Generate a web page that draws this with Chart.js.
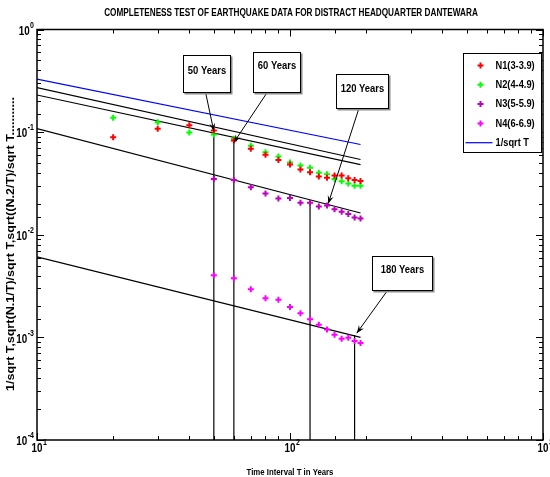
<!DOCTYPE html>
<html>
<head>
<meta charset="utf-8">
<title>Completeness test - Dantewara</title>
<script src="https://cdn.jsdelivr.net/npm/chart.js@4.4.1/dist/chart.umd.min.js"></script>
<style>
    html, body { margin: 0; padding: 0; background: #ffffff; }
    #wrap { width: 550px; height: 477px; }
</style>
</head>
<body>
<div id="wrap"><canvas id="completenessChart" width="550" height="477"></canvas></div>
<script>
// Stepp completeness test - sqrt(N/T)/sqrt T against time interval T

/* ========================================
   Data
   ======================================== */

// time intervals (years) for the two lower magnitude classes
const intervalsLow = [20, 30, 40, 50, 60, 70, 80, 90, 100, 110, 120, 130, 140, 150, 160, 170, 180, 190];
// time intervals (years) for the two higher magnitude classes
const intervalsHigh = [50, 60, 70, 80, 90, 100, 110, 120, 130, 140, 150, 160, 170, 180, 190];

const n1Values = [0.0893, 0.108, 0.117, 0.104, 0.0829, 0.0688, 0.0602, 0.0534, 0.0483, 0.0432,
                  0.0406, 0.0370, 0.0360, 0.0377, 0.0377, 0.0356, 0.0342, 0.0334];
const n2Values = [0.138, 0.125, 0.0993, 0.0950, 0.0861, 0.0736, 0.0637, 0.0578, 0.0506, 0.0472,
                  0.0449, 0.0402, 0.0388, 0.0350, 0.0333, 0.0315, 0.0301, 0.0301];
const n3Values = [0.0350, 0.0342, 0.0290, 0.0253, 0.0226, 0.0228, 0.0205, 0.0205, 0.0189, 0.0193,
                  0.0177, 0.0168, 0.0159, 0.0147, 0.0144];
const n4Values = [0.00403, 0.00376, 0.00294, 0.00240, 0.00232, 0.00198, 0.00172, 0.00150, 0.00133,
                  0.00119, 0.00106, 0.00097, 0.00099, 0.00092, 0.00088];

const seriesNames = ['N1(3-3.9)', 'N2(4-4.9)', 'N3(5-5.9)', 'N4(6-6.9)', '1/sqrt T'];

// straight lines: value at T = 10 and at T = 190
const lineSpan = [10, 190];
const sqrtTValues = [0.328, 0.0758];
const fitLineValues = [
    [0.272, 0.0541],
    [0.230, 0.0483],
    [0.108, 0.0163],
    [0.00608, 0.00100]
];

// completeness periods and where their drop lines start
const completeYears = [50, 60, 120, 180];
const completeTop = [0.100, 0.083, 0.0215, 0.00105];
const calloutText = ['50 Years', '60 Years', '120 Years', '180 Years'];
const calloutTips = [[50, 0.102], [60, 0.0793], [141.6, 0.0201], [183.6, 0.0011]];

const xTickRange = [10, 1000];
const yTickRange = [1e-4, 1];

const titleText = 'COMPLETENESS TEST OF EARTHQUAKE DATA FOR DISTRACT HEADQUARTER DANTEWARA';
const xTitleText = 'Time Interval T in Years';
const yTitleText = '1/sqrt T,sqrt(N.1/T)/sqrt T,sqrt((N.2/T)/sqrt T...........';

/* ========================================
   Helpers
   ======================================== */

const FONT = "'Liberation Sans', Arial, Helvetica, sans-serif";
const SQUISH = 0.82;   // the figure text is set narrow

// draw a line of text, compressed horizontally
function drawText(ctx, text, x, y, size, align, rotate) {
    ctx.save();
    ctx.translate(x, y);
    ctx.scale(SQUISH, 1);
    if (rotate) ctx.rotate(rotate);
    ctx.font = 'bold ' + size + 'px ' + FONT;
    ctx.textAlign = align || 'center';
    ctx.textBaseline = 'middle';
    ctx.fillStyle = '#000';
    ctx.fillText(text, 0, 0);
    ctx.restore();
}

function textWidth(ctx, text, size) {
    ctx.save();
    ctx.font = 'bold ' + size + 'px ' + FONT;
    const w = ctx.measureText(text).width * SQUISH;
    ctx.restore();
    return w;
}

function decadeOf(value) {
    const e = Math.log10(value);
    return Math.abs(e - Math.round(e)) < 1e-6 ? Math.round(e) : null;
}

function points(xs, ys) {
    return xs.map((x, i) => ({ x: x, y: ys[i] }));
}

function markerSet(label, xs, ys, color) {
    return {
        label: label,
        data: points(xs, ys),
        pointStyle: 'cross',
        pointRadius: 3,
        borderWidth: 2,
        borderColor: color,
        backgroundColor: color,
        showLine: false,
        inLegend: true
    };
}

function lineSet(label, xs, ys, color, inLegend) {
    return {
        label: label,
        data: points(xs, ys),
        showLine: true,
        borderColor: color,
        borderWidth: 1.2,
        pointRadius: 0,
        inLegend: inLegend
    };
}

/* ========================================
   Plugins
   ======================================== */

// box around the plot, inward ticks on all sides, power-of-ten labels and titles
const frameTicks = {
    id: 'frameTicks',
    afterDatasetsDraw(chart) {
        const { ctx, chartArea: a, scales: { x, y } } = chart;
        ctx.save();
        ctx.strokeStyle = '#000';
        ctx.lineWidth = 1;
        ctx.beginPath();
        x.ticks.forEach(t => {
            const px = Math.round(x.getPixelForValue(t.value)) + 0.5;
            const len = decadeOf(t.value) !== null ? 7 : 4;
            ctx.moveTo(px, a.bottom); ctx.lineTo(px, a.bottom - len);
            ctx.moveTo(px, a.top); ctx.lineTo(px, a.top + len);
        });
        y.ticks.forEach(t => {
            const py = Math.round(y.getPixelForValue(t.value)) + 0.5;
            const len = decadeOf(t.value) !== null ? 7 : 4;
            ctx.moveTo(a.left, py); ctx.lineTo(a.left + len, py);
            ctx.moveTo(a.right, py); ctx.lineTo(a.right - len, py);
        });
        ctx.stroke();
        ctx.lineWidth = 1.5;
        ctx.strokeRect(a.left, a.top, a.right - a.left, a.bottom - a.top);
        ctx.restore();

        // 10^n labels
        const wb = textWidth(ctx, '10', 12);
        x.ticks.forEach(t => {
            const e = decadeOf(t.value);
            if (e === null) return;
            const px = x.getPixelForValue(t.value);
            drawText(ctx, '10', px, a.bottom + 9, 12, 'center');
            drawText(ctx, String(e), px + wb / 2 + 0.5, a.bottom + 3, 8.5, 'left');
        });
        y.ticks.forEach(t => {
            const e = decadeOf(t.value);
            if (e === null) return;
            const py = y.getPixelForValue(t.value);
            const we = textWidth(ctx, String(e), 8.5);
            drawText(ctx, String(e), a.left - 3, py - 4, 8.5, 'right');
            drawText(ctx, '10', a.left - 3 - we - 0.5, py + 2, 12, 'right');
        });

        drawText(ctx, titleText, (a.left + a.right) / 2 + 1, 13.5, 10, 'center');
        drawText(ctx, xTitleText, (a.left + a.right) / 2, 472, 9.5, 'center');
        drawText(ctx, yTitleText, 11, 244, 12.6, 'center', -Math.PI / 2);
    }
};

// text boxes with arrows pointing at the completeness periods
const callouts = {
    id: 'callouts',
    afterDatasetsDraw(chart, args, opts) {
        const { ctx, scales: { x, y } } = chart;
        opts.boxes.forEach((b, i) => {
            const cx = x.getPixelForValue(b.at[0]);
            const cy = y.getPixelForValue(b.at[1]);
            const left = Math.round(cx - b.w / 2) + 0.5;
            const top = Math.round(cy - b.h / 2) + 0.5;

            // arrow
            const sx = left + b.w * b.from;
            const sy = top + b.h;
            const tx = x.getPixelForValue(calloutTips[i][0]);
            const ty = y.getPixelForValue(calloutTips[i][1]);
            const ang = Math.atan2(ty - sy, tx - sx);
            const c = Math.cos(ang), s = Math.sin(ang);
            ctx.save();
            ctx.strokeStyle = '#000';
            ctx.lineWidth = 1;
            ctx.beginPath();
            ctx.moveTo(sx, sy);
            ctx.lineTo(tx, ty);
            ctx.stroke();
            ctx.fillStyle = '#000';
            ctx.beginPath();
            ctx.moveTo(tx, ty);
            ctx.lineTo(tx - 8 * c + 3 * s, ty - 8 * s - 3 * c);
            ctx.lineTo(tx - 5 * c, ty - 5 * s);
            ctx.lineTo(tx - 8 * c - 3 * s, ty - 8 * s + 3 * c);
            ctx.closePath();
            ctx.fill();

            // box with a light shadow
            ctx.fillStyle = '#8c8c8c';
            ctx.fillRect(left + 1, top + 1, b.w + 1, b.h + 1);
            ctx.fillStyle = '#ffffff';
            ctx.fillRect(left, top, b.w, b.h);
            ctx.strokeStyle = '#000';
            ctx.strokeRect(left, top, b.w, b.h);
            ctx.restore();

            drawText(ctx, calloutText[i], left + b.w / 2, top + b.dy, 11.5, 'center');
        });
    }
};

// legend box in the upper right corner of the plot
const legendBox = {
    id: 'legendBox',
    afterDraw(chart) {
        const { ctx, chartArea: a } = chart;
        const w = 78, h = 99;
        const left = Math.round(a.right - w - 2) + 0.5;
        const top = Math.round(a.top + 23) + 0.5;
        ctx.save();
        ctx.fillStyle = '#ffffff';
        ctx.fillRect(left, top, w, h);
        ctx.strokeStyle = '#000';
        ctx.lineWidth = 1;
        ctx.strokeRect(left, top, w, h);
        ctx.restore();

        chart.data.datasets.filter(d => d.inLegend).forEach((d, i) => {
            const ly = top + 12 + i * 19.3;
            ctx.save();
            ctx.strokeStyle = d.borderColor;
            if (d.showLine) {
                ctx.lineWidth = 1.2;
                ctx.beginPath();
                ctx.moveTo(left + 2, ly);
                ctx.lineTo(left + 29, ly);
                ctx.stroke();
            } else {
                ctx.lineWidth = 2;
                ctx.beginPath();
                ctx.moveTo(left + 17, ly - 3); ctx.lineTo(left + 17, ly + 3);
                ctx.moveTo(left + 14, ly); ctx.lineTo(left + 20, ly);
                ctx.stroke();
            }
            ctx.restore();
            drawText(ctx, d.label, left + 32, ly, 11.3, 'left');
        });
    }
};

/* ========================================
   Chart
   ======================================== */

const datasets = [
    markerSet(seriesNames[0], intervalsLow, n1Values, '#ff0000'),
    markerSet(seriesNames[1], intervalsLow, n2Values, '#00ff00'),
    markerSet(seriesNames[2], intervalsHigh, n3Values, '#bf00bf'),
    markerSet(seriesNames[3], intervalsHigh, n4Values, '#ff00ff'),
    lineSet(seriesNames[4], lineSpan, sqrtTValues, '#0000ff', true)
];

fitLineValues.forEach(v => datasets.push(lineSet('fit', lineSpan, v, '#000000', false)));

completeYears.forEach((t, i) => {
    datasets.push(lineSet('period', [t, t], [completeTop[i], yTickRange[0]], '#000000', false));
});

function fixScale(s, size) {
    if (s.isHorizontal()) s.height = size; else s.width = size;
    s.paddingLeft = s.paddingRight = s.paddingTop = s.paddingBottom = 0;
}

const chart = new Chart(document.getElementById('completenessChart'), {
    type: 'scatter',
    data: { datasets: datasets },
    options: {
        responsive: false,
        animation: false,
        devicePixelRatio: 1,
        layout: { padding: { left: 0, right: 7, top: 29.5, bottom: 0 } },
        plugins: {
            legend: { display: false },
            tooltip: { enabled: false },
            title: { display: false },
            callouts: {
                boxes: [
                    { at: [46.8, 0.371], w: 47, h: 37, from: 0.47, dy: 15 },
                    { at: [88.4, 0.384], w: 47, h: 40, from: 0.29, dy: 13 },
                    { at: [192.6, 0.250], w: 52, h: 34, from: 0.43, dy: 14 },
                    { at: [277.2, 0.00424], w: 60, h: 34, from: 0.25, dy: 13 }
                ]
            }
        },
        scales: {
            x: {
                type: 'logarithmic',
                position: 'bottom',
                min: xTickRange[0],
                max: xTickRange[1],
                afterFit: s => fixScale(s, 37),
                grid: { display: false, drawTicks: false },
                border: { display: false },
                ticks: { display: false, autoSkip: false }
            },
            y: {
                type: 'logarithmic',
                min: yTickRange[0],
                max: yTickRange[1],
                afterFit: s => fixScale(s, 37),
                grid: { display: false, drawTicks: false },
                border: { display: false },
                ticks: { display: false, autoSkip: false }
            }
        }
    },
    plugins: [frameTicks, callouts, legendBox]
});
</script>
</body>
</html>
